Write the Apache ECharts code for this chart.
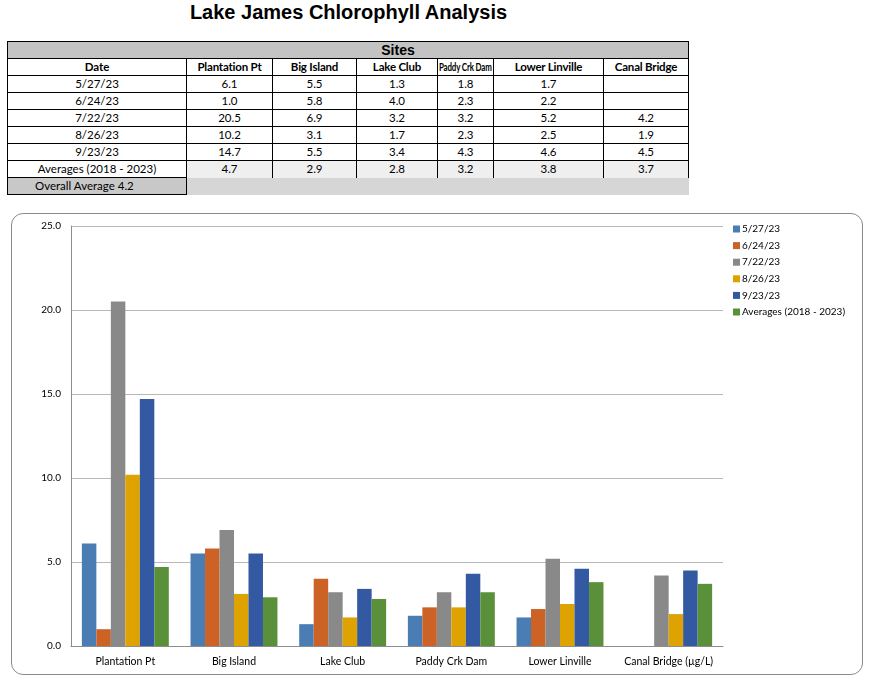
<!DOCTYPE html>
<html><head><meta charset="utf-8">
<script src="https://cdn.jsdelivr.net/npm/echarts@6/dist/echarts.min.js"></script>
<style>
html,body{margin:0;padding:0;background:#fff;width:877px;height:687px;overflow:hidden;}
#title{position:absolute;left:0;top:1px;width:697px;text-align:center;font:bold 20px "Liberation Sans",Arial,sans-serif;color:#000;}
#tbl{position:absolute;left:7px;top:41px;width:682px;border-collapse:collapse;table-layout:fixed;font-family:Lato,"Liberation Sans",sans-serif;font-size:11.5px;color:#000;}
#tbl td{height:16px;padding:0;border:1px solid #000;text-align:center;line-height:16px;white-space:nowrap;overflow:hidden;}
#tbl tr.hdr td{font-weight:bold;}
#tbl td span.fit{display:inline-block;transform-origin:center center;line-height:16px;height:16px;vertical-align:top;letter-spacing:-0.2px;}
#tbl td.avg{background:#efefef;border-bottom:none;}
#tbl td.sites{background:#c3c3c3;font:bold 14px "Liberation Sans",Arial,sans-serif;}
#tbl td.ov{background:#c8c8c8;text-align:left;padding-left:27px;}
#tbl td.ovr{background:#d6d6d6;border:none;}
#box{position:absolute;left:11px;top:213px;width:850px;height:460px;border:1px solid #8a8a8a;border-radius:12px;}
#chart{position:absolute;left:0;top:0;width:850px;height:460px;}
</style></head>
<body>
<div id="title">Lake James Chlorophyll Analysis</div>
<table id="tbl"></table>
<div id="box"><div id="chart"></div></div>
<script>
const sites = ['Plantation Pt','Big Island','Lake Club','Paddy Crk Dam','Lower Linville','Canal Bridge'];
const axisCategories = ['Plantation Pt','Big Island','Lake Club','Paddy Crk Dam','Lower Linville','Canal Bridge (µg/L)'];
const dates = ['5/27/23','6/24/23','7/22/23','8/26/23','9/23/23'];
const avgLabel = 'Averages (2018 - 2023)';
const v0527 = [6.1, 5.5, 1.3, 1.8, 1.7, null];
const v0624 = [1.0, 5.8, 4.0, 2.3, 2.2, null];
const v0722 = [20.5, 6.9, 3.2, 3.2, 5.2, 4.2];
const v0826 = [10.2, 3.1, 1.7, 2.3, 2.5, 1.9];
const v0923 = [14.7, 5.5, 3.4, 4.3, 4.6, 4.5];
const vAvg = [4.7, 2.9, 2.8, 3.2, 3.8, 3.7];
const overallAverage = 4.2;
const colors = ['#4a7db4','#cc6226','#898989','#dea300','#3259a2','#5a9039'];

// table
const colW = [179, 86, 84, 81, 56, 110, 85];
const tbl = document.getElementById('tbl');
let html = '<colgroup>' + colW.map(w => '<col style="width:'+w+'px">').join('') + '</colgroup>';
html += '<tr><td class="sites" colspan="7"><div style="margin-left:179px;width:422px;text-align:center">Sites</div></td></tr>';
html += '<tr class="hdr"><td>Date</td>' + sites.map(s => '<td><span class="fit">'+s+'</span></td>').join('') + '</tr>';
const rows = [v0527, v0624, v0722, v0826, v0923];
rows.forEach((r, i) => {
  html += '<tr><td>'+dates[i]+'</td>' + r.map(v => '<td>'+(v==null?'':v.toFixed(1))+'</td>').join('') + '</tr>';
});
html += '<tr><td>'+avgLabel+'</td>' + vAvg.map(v => '<td class="avg">'+v.toFixed(1)+'</td>').join('') + '</tr>';
html += '<tr><td class="ov">Overall Average '+overallAverage.toFixed(1)+'</td><td class="ovr" colspan="6"></td></tr>';
tbl.innerHTML = html;
document.querySelectorAll('#tbl span.fit').forEach(sp => {
  const cw = sp.parentElement.clientWidth - 2;
  const w = sp.scrollWidth;
  if (w > cw) { sp.style.transform = 'scaleX(' + (cw / w) + ')'; sp.style.margin = '0 ' + (-(w - cw) / 2) + 'px'; }
});

// chart
const names = dates.concat([avgLabel]);
const data = [v0527, v0624, v0722, v0826, v0923, vAvg];
const chart = echarts.init(document.getElementById('chart'), null, {renderer:'canvas'});
const font = 'Lato, "Liberation Sans", sans-serif';
chart.setOption({
  animation:false,
  color: colors,
  grid:{left:59, top:12, width:652, height:420, containLabel:false},
  legend:{
    orient:'vertical', left:716, top:4, itemWidth:7, itemHeight:7, itemGap:4.6,
    icon:'rect', textStyle:{fontFamily:font, fontSize:10, color:'#000', lineHeight:12, padding:[0,0,0,-3]},
    data:names
  },
  xAxis:{
    type:'category', data:axisCategories,
    axisLine:{lineStyle:{color:'#8c8c8c', width:1}},
    axisTick:{show:false},
    axisLabel:{fontFamily:font, fontSize:10.5, color:'#000', margin:10, interval:0}
  },
  yAxis:{
    type:'value', min:0, max:25, interval:5,
    axisLine:{show:true, lineStyle:{color:'#8c8c8c'}},
    axisTick:{show:false},
    splitLine:{lineStyle:{color:'#b8b8b8'}},
    axisLabel:{fontFamily:font, fontSize:10, color:'#000', margin:10, formatter:v => v.toFixed(1)}
  },
  series: names.map((n, i) => ({
    name:n, type:'bar', data:data[i], barGap:'0%', barCategoryGap:'20%'
  }))
});
</script>
</body></html>
